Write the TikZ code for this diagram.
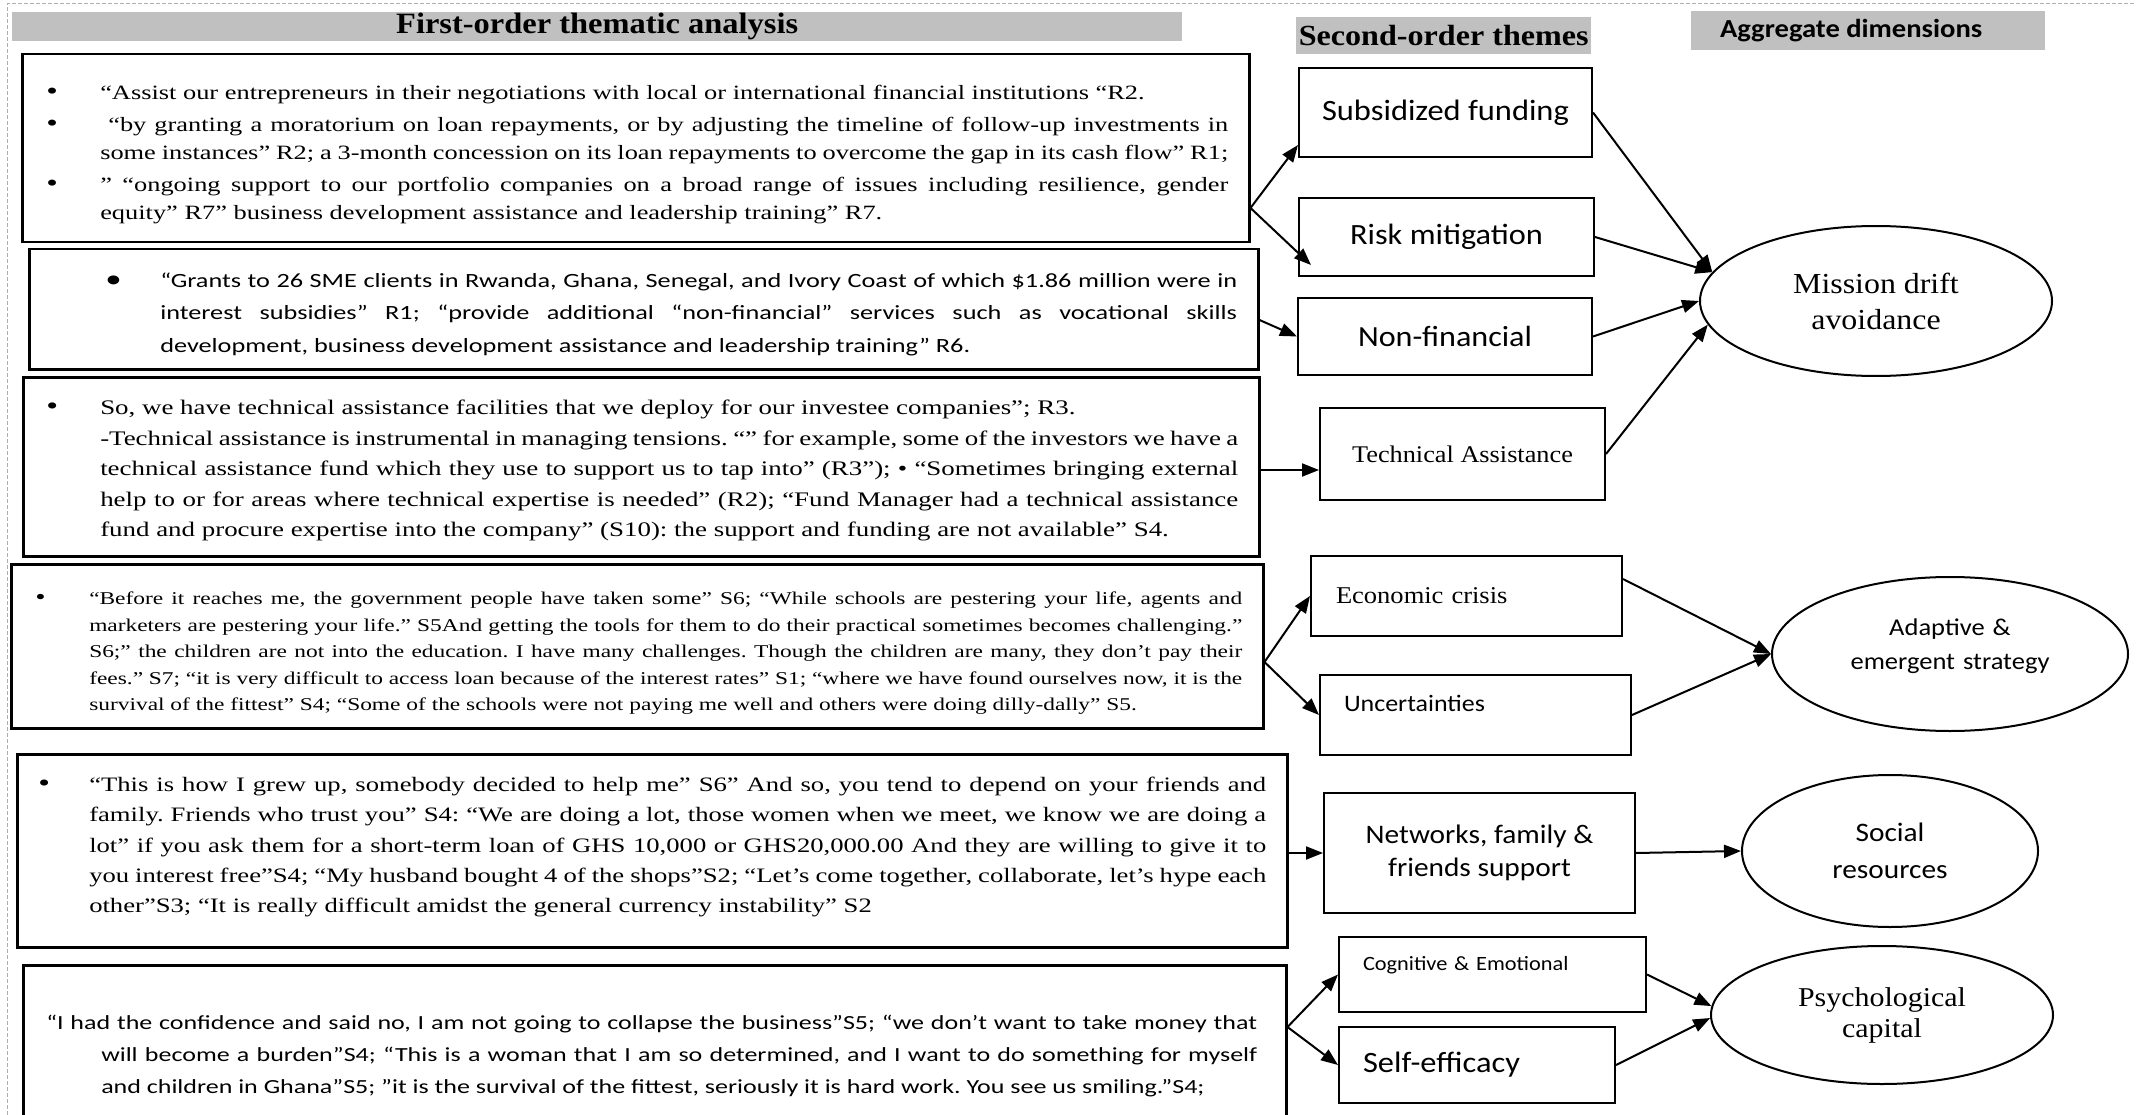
\documentclass[tikz,border=0pt]{standalone}
\usepackage{fontspec}
\setmainfont{Liberation Serif}[FakeStretch=1.3]
\newfontfamily\calib{Carlito}[FakeStretch=1.3]
\newfontfamily\tnrw{Liberation Serif}[FakeStretch=1.1]
\newfontfamily\calibw{Carlito}[FakeStretch=1.1]
\usetikzlibrary{arrows.meta,shapes.geometric}

\definecolor{hdrgray}{RGB}{192,192,192}
\definecolor{framegray}{RGB}{175,175,175}

% quote text (wide) and label text
\newcommand{\setserif}[2]{\fontsize{#1}{#2}\selectfont}
\newcommand{\setsans}[2]{\calib\fontsize{#1}{#2}\selectfont}
\newcommand{\lblserif}[2]{\tnrw\fontsize{#1}{#2}\selectfont}
\newcommand{\lblsans}[2]{\calibw\fontsize{#1}{#2}\selectfont}
\newcommand{\qitem}[2][48pt]{\par\noindent\hangindent=#1\hangafter=1\makebox[#1][l]{\hspace*{-6pt}\scalebox{1.25}{\textbullet}}#2\par}

\frenchspacing
\hyphenpenalty=10000
\exhyphenpenalty=10000
\tolerance=10000

\tikzset{
  quotebox/.style={draw, line width=2.5pt, anchor=north west, inner xsep=21pt, inner ysep=0pt, align=justify},
  themebox/.style={draw, line width=2pt, anchor=north west, inner sep=0pt, align=center},
  dimnode/.style={draw, ellipse, line width=2pt, inner sep=0pt, align=center},
  hdrbox/.style={fill=hdrgray, anchor=north west, inner sep=0pt},
  arr/.style={-{Triangle[length=17pt,width=13pt]}, line width=2pt}
}

\begin{document}
\begin{tikzpicture}[x=1pt,y=-1pt]
\useasboundingbox (0,0) rectangle (2136,1115);

% page frame
\draw[framegray, dash pattern=on 4pt off 2pt, line width=1pt] (7,1115) -- (7,4) -- (2136,4);

% headers
\node[hdrbox, minimum width=1170pt, minimum height=29pt, font=\bfseries\lblserif{29.5}{30}] (h1) at (12,12) {First-order thematic analysis};
\node[hdrbox, minimum width=295pt, minimum height=37pt, font=\bfseries\lblserif{29.2}{30}] (h2) at (1296,17) {Second-order themes};
\node[hdrbox, minimum width=354pt, minimum height=39pt, font=\bfseries\lblsans{26}{28}] (h3) at (1691,11) {Aggregate dimensions\hspace*{34pt}};

% first-order quotes
\node[quotebox, font=\setserif{20.3}{28}, text width=1185pt, minimum height=188pt, text depth=162pt] (q1) at (21,53) {\leftskip=9pt\parskip=4pt
\qitem{“Assist our entrepreneurs in their negotiations with local or international financial institutions “R2.}
\qitem{ “by granting a moratorium on loan repayments, or by adjusting the timeline of follow-up investments in\linebreak some instances” R2; a 3-month concession on its loan repayments to overcome the gap in its cash flow” R1;}
\qitem{” “ongoing support to our portfolio companies on a broad range of issues including resilience, gender\linebreak equity” R7” business development assistance and leadership training” R7.}};

\node[quotebox, font=\setsans{20.2}{32.5}, text width=1187pt, minimum height=120pt, text depth=109pt] (q2) at (28,248) {\leftskip=61pt
\qitem[49pt]{“Grants to 26 SME clients in Rwanda, Ghana, Senegal, and Ivory Coast of which \$1.86 million were in\linebreak interest subsidies” R1; “provide additional “non-financial” services such as vocational skills\linebreak development, business development assistance and leadership training” R6.}};

\node[quotebox, font=\setserif{20.7}{30.5}, text width=1194pt, minimum height=179pt, text depth=165pt] (q3) at (22,376) {\leftskip=8pt
\qitem{So, we have technical assistance facilities that we deploy for our investee companies”; R3.\newline -Technical assistance is instrumental in managing tensions. “” for example, some of the investors we have a\linebreak technical assistance fund which they use to support us to tap into” (R3”); \textbullet\ “Sometimes bringing external\linebreak help to or for areas where technical expertise is needed” (R2); “Fund Manager had a technical assistance\linebreak fund and procure expertise into the company” (S10): the support and funding are not available” S4.}};

\node[quotebox, font=\setserif{18}{26.5}, text width=1210pt, minimum height=164pt] (q4) at (10,563) {\leftskip=9pt
\qitem{“Before it reaches me, the government people have taken some” S6; “While schools are pestering your life, agents and\linebreak marketers are pestering your life.” S5And getting the tools for them to do their practical sometimes becomes challenging.”\linebreak S6;” the children are not into the education. I have many challenges. Though the children are many, they don’t pay their\linebreak fees.” S7; “it is very difficult to access loan because of the interest rates” S1; “where we have found ourselves now, it is the\linebreak survival of the fittest” S4; “Some of the schools were not paying me well and others were doing dilly-dally” S5.}};

\node[quotebox, font=\setserif{20.5}{30.3}, text width=1228pt, minimum height=193pt, text depth=179pt] (q5) at (16,753) {\leftskip=6pt
\qitem[45pt]{“This is how I grew up, somebody decided to help me” S6” And so, you tend to depend on your friends and\linebreak family. Friends who trust you” S4: “We are doing a lot, those women when we meet, we know we are doing a\linebreak lot” if you ask them for a short-term loan of GHS 10,000 or GHS20,000.00 And they are willing to give it to\linebreak you interest free”S4; “My husband bought 4 of the shops”S2; “Let’s come together, collaborate, let’s hype each\linebreak other”S3; “It is really difficult amidst the general currency instability” S2}};

\node[quotebox, font=\setsans{20}{32}, text width=1221pt, minimum height=182pt] (q6) at (22,964) {\leftskip=2pt\rightskip=8pt
\noindent\hangindent=55pt\hangafter=1 “I had the confidence and said no, I am not going to collapse the business”S5; “we don’t want to take money that\linebreak will become a burden”S4; “This is a woman that I am so determined, and I want to do something for myself\linebreak and children in Ghana”S5; ”it is the survival of the fittest, seriously it is hard work. You see us smiling.”S4;\par};

% second-order themes
\node[themebox, minimum width=293pt, minimum height=89pt, font=\lblsans{29.5}{34}] (subs) at (1298,67) {Subsidized funding};
\node[themebox, minimum width=295pt, minimum height=78pt, font=\lblsans{29.4}{34}] (risk) at (1298,197) {Risk mitigation};
\node[themebox, minimum width=294pt, minimum height=77pt, font=\lblsans{29.2}{34}] (nonfin) at (1297,297) {Non-financial};
\node[themebox, minimum width=285pt, minimum height=92pt, font=\lblserif{23.9}{28}] (tech) at (1319,407) {Technical Assistance};
\node[themebox, align=left, inner xsep=25pt, text width=261pt, minimum height=80pt, font=\lblserif{24.1}{28}] (econ) at (1310,555) {Economic crisis};
\node[themebox, align=left, inner xsep=24pt, text width=263pt, minimum height=80pt, text depth=24pt, font=\lblsans{23.6}{28}] (uncert) at (1319,674) {Uncertainties};
\node[themebox, minimum width=311pt, minimum height=120pt, font=\lblsans{26.7}{33}] (netw) at (1323,792) {Networks, family \&\\friends support};
\node[themebox, align=left, inner xsep=24pt, text width=259pt, minimum height=75pt, text depth=22pt, font=\lblsans{20.3}{24}] (cogn) at (1338,936) {Cognitive \& Emotional};
\node[themebox, align=left, inner xsep=24pt, text width=228pt, minimum height=76pt, font=\lblsans{29.5}{34}] (selfe) at (1338,1026) {Self-efficacy};

% aggregate dimensions
\node[dimnode, minimum width=352pt, minimum height=150pt, font=\lblserif{29}{36}] (mission) at (1876,301) {Mission drift\\avoidance};
\node[dimnode, minimum width=356pt, minimum height=154pt, text width=210pt, text depth=53pt, font=\lblsans{24.1}{34}] (adapt) at (1950,654) {Adaptive \&\\emergent strategy};
\node[dimnode, minimum width=296pt, minimum height=152pt, font=\lblsans{26.7}{37}] (social) at (1890,851) {Social\\resources};
\node[dimnode, minimum width=342pt, minimum height=138pt, font=\lblserif{27.2}{31}] (psych) at (1882,1015) {Psychological\\capital};

% quotes to themes
\draw[arr] (q1.east |- 0,208) -- ([yshift=13pt]subs.south west);
\draw[arr] (q1.east |- 0,208) -- ([shift={(13,-12)}]risk.south west);
\draw[arr] (q2.east |- 0,320) -- (nonfin.west);
\draw[arr] (q3.east |- 0,470) -- (tech.west |- 0,470);
\draw[arr] (q4.east |- 0,662) -- (econ.west);
\draw[arr] (q4.east |- 0,662) -- (uncert.west);
\draw[arr] (q5.east |- netw.west) -- (netw.west);
\draw[arr] (q6.east |- 0,1027) -- (cogn.west);
\draw[arr] (q6.east |- 0,1027) -- (selfe.west);

% themes to dimensions
\foreach \a/\b in {subs/mission.170, risk/mission.170, nonfin/mission.180, tech/mission.188,
  uncert/adapt.west, netw/social.west, cogn/psych.177, selfe/psych.181}
  \draw[arr] (\a.east) -- (\b);
\draw[arr] ([yshift=17pt]econ.east) -- (adapt.west);

\end{tikzpicture}
\end{document}
